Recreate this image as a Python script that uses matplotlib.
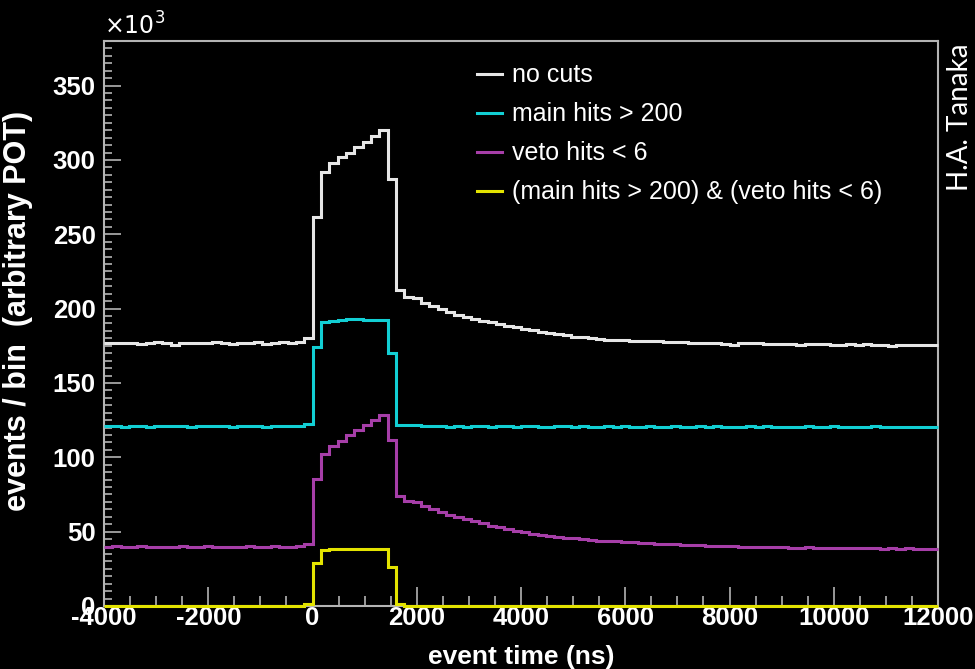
import numpy as np
import matplotlib
matplotlib.use("Agg")
import matplotlib.pyplot as plt
from matplotlib.ticker import MultipleLocator
from matplotlib.font_manager import FontProperties

plt.rcParams["axes.unicode_minus"] = False

# histogram binning: 100 bins from -4000 to 12000 ns
bin_edges = np.linspace(-4000, 12000, 101)

# all values in units of 10^3 events / bin
no_cuts = [
    177.0, 176.8, 177.2, 177.0, 176.5, 177.1, 177.3, 176.9, 175.8, 177.0,
    177.2, 176.6, 177.0, 177.4, 177.1, 176.0, 176.7, 177.2, 177.3, 176.5,
    177.0, 177.8, 177.1, 177.6, 180.5,
    261.5, 292.0, 298.0, 302.0, 305.0, 308.5, 312.0, 316.0, 320.0, 287.5,
    212.5, 208.0, 207.0, 203.5, 201.5, 199.5, 197.5, 196.0, 194.5, 193.0,
    192.0, 191.0, 189.5, 188.5, 187.5, 186.5, 185.5, 184.5, 183.5, 182.8,
    182.0, 181.2, 180.6, 180.0, 179.6, 179.2, 179.0, 178.6, 178.2, 178.4,
    177.9, 178.0, 177.6, 177.4, 177.7, 177.0, 176.8, 177.2, 176.9, 176.5,
    175.4, 176.8, 176.9, 176.6, 176.2, 176.4, 176.0, 176.3, 175.8, 176.0,
    176.2, 175.9, 175.3, 175.6, 176.1, 175.8, 175.9, 175.4, 175.6, 175.0,
    175.3, 175.8, 175.5, 175.4, 175.6,
]

main_hits = [
    120.9, 121.2, 120.7, 121.0, 121.1, 120.6, 121.0, 120.8, 121.2, 121.0,
    120.5, 121.1, 120.9, 121.0, 121.3, 120.7, 121.0, 120.8, 121.2, 120.6,
    121.0, 121.1, 120.9, 121.0, 122.7,
    174.0, 191.0, 192.0, 192.3, 193.0, 192.7, 192.5, 192.6, 192.4, 170.0,
    122.0, 121.5, 121.6, 121.1, 120.8, 121.0, 120.6, 120.9, 120.7, 121.0,
    120.8, 120.5, 120.9, 121.0, 120.6, 120.8, 121.1, 120.7, 120.4, 120.9,
    120.8, 120.6, 121.0, 120.5, 120.7, 120.9, 120.6, 120.8, 120.3, 120.7,
    120.9, 120.6, 120.5, 120.8, 120.7, 120.4, 120.9, 120.6, 120.8, 120.5,
    120.7, 120.3, 120.8, 120.6, 120.9, 120.5, 120.7, 120.6, 120.2, 120.8,
    120.6, 120.5, 120.9, 120.4, 120.7, 120.6, 120.3, 120.8, 120.5, 120.6,
    120.2, 120.7, 120.5, 120.6, 120.5,
]

veto_hits = [
    39.8, 40.1, 39.7, 39.9, 40.2, 39.6, 39.9, 40.0, 39.7, 40.1,
    39.8, 39.9, 40.3, 39.7, 39.9, 40.0, 39.6, 40.1, 39.8, 39.9,
    40.2, 39.8, 40.0, 40.3, 42.0,
    85.3, 102.5, 107.7, 111.0, 114.8, 118.2, 121.6, 124.9, 128.3, 111.9,
    74.0, 70.5, 70.0, 67.0, 65.5, 63.5, 61.5, 60.0, 58.5, 57.0,
    55.5, 54.0, 53.0, 51.5, 50.5, 49.5, 48.5, 48.0, 47.0, 46.5,
    46.0, 45.5, 45.0, 44.5, 44.0, 44.0, 43.5, 43.0, 43.0, 42.5,
    42.5, 42.0, 41.8, 41.5, 41.3, 41.0, 41.0, 40.6, 40.5, 40.2,
    40.3, 40.0, 39.8, 39.9, 39.6, 39.5, 39.6, 39.3, 39.2, 39.4,
    39.0, 39.1, 38.9, 39.0, 38.8, 38.9, 38.7, 38.9, 38.6, 38.8,
    38.5, 38.7, 38.6, 38.4, 38.5,
]

both_cuts = [
    0.2, 0.2, 0.2, 0.2, 0.2, 0.2, 0.2, 0.2, 0.2, 0.2,
    0.2, 0.2, 0.2, 0.2, 0.2, 0.2, 0.2, 0.2, 0.2, 0.2,
    0.2, 0.2, 0.2, 0.3, 1.5,
    28.7, 37.5, 38.3, 38.4, 38.3, 38.3, 38.4, 38.3, 38.3, 26.4,
    1.5, 0.3, 0.2, 0.2, 0.2, 0.2, 0.2, 0.2, 0.2, 0.2,
    0.2, 0.2, 0.2, 0.2, 0.2, 0.2, 0.2, 0.2, 0.2, 0.2,
    0.2, 0.2, 0.2, 0.2, 0.2, 0.2, 0.2, 0.2, 0.2, 0.2,
    0.2, 0.2, 0.2, 0.2, 0.2, 0.2, 0.2, 0.2, 0.2, 0.2,
    0.2, 0.2, 0.2, 0.2, 0.2, 0.2, 0.2, 0.2, 0.2, 0.2,
    0.2, 0.2, 0.2, 0.2, 0.2, 0.2, 0.2, 0.2, 0.2, 0.2,
    0.2, 0.2, 0.2, 0.2, 0.2,
]

series = [
    (no_cuts, "no cuts", "#e6e6e6"),
    (main_hits, "main hits > 200", "#12cfd4"),
    (veto_hits, "veto hits < 6", "#a63ea8"),
    (both_cuts, "(main hits > 200) & (veto hits < 6)", "#e3e300"),
]

frame_col = "#b4b4b4"

fig = plt.figure(figsize=(9.75, 6.69), dpi=100, facecolor="black")
ax = fig.add_axes([0.1067, 0.0942, 0.8554, 0.8445])
ax.set_facecolor("black")

for vals, label, col in series:
    ax.stairs(vals, bin_edges, baseline=None, color=col, lw=2.2, label=label,
              zorder=3, clip_on=False)

ax.set_xlim(-4000, 12000)
ax.set_ylim(0, 380)

ax.xaxis.set_major_locator(MultipleLocator(2000))
ax.xaxis.set_minor_locator(MultipleLocator(500))
ax.yaxis.set_major_locator(MultipleLocator(50))
ax.yaxis.set_minor_locator(MultipleLocator(5))

for s in ax.spines.values():
    s.set_color(frame_col)
    s.set_linewidth(1.5)

tick_font = FontProperties(family="Liberation Sans", weight="bold", size=18.5)
ax.tick_params(axis="both", which="both", direction="in", color=frame_col,
               labelcolor="white", top=False, right=False, width=1.2)
ax.tick_params(axis="x", which="major", length=14, pad=0)
ax.tick_params(axis="x", which="minor", length=7)
ax.tick_params(axis="y", which="major", length=12, pad=6)
ax.tick_params(axis="y", which="minor", length=6)
for lab in ax.get_xticklabels() + ax.get_yticklabels():
    lab.set_fontproperties(tick_font)

ax.set_xlabel("event time (ns)", color="white", fontsize=19,
              fontweight="bold", family="Liberation Sans", labelpad=11)
ax.set_ylabel("events / bin  (arbitrary POT)", color="white", fontsize=22,
              fontweight="bold", family="Liberation Sans", labelpad=10)
ax.yaxis.set_label_coords(-0.085, 0.522)

ax.text(0.0, 1.003, r"$\times10^{3}$", transform=ax.transAxes, color="white",
        fontsize=17, family="Liberation Sans", ha="left", va="bottom")

leg = ax.legend(loc="upper left", bbox_to_anchor=(0.435, 0.978), frameon=False,
                prop={"family": "Liberation Sans", "size": 18},
                handlelength=1.0, handletextpad=0.42, labelspacing=0.6,
                borderaxespad=0)
for t in leg.get_texts():
    t.set_color("white")

fig.text(0.985, 0.824, "H.A. Tanaka", rotation=90, color="white", fontsize=20,
         family="Lato", ha="center", va="center")

fig.savefig("out.png", dpi=100, facecolor="black")
